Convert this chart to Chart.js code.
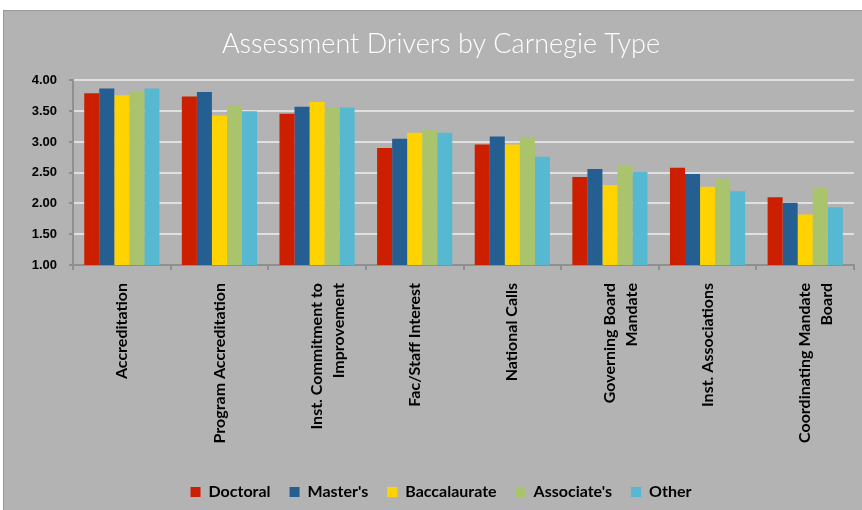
<!DOCTYPE html>
<html>
<head>
<meta charset="utf-8">
<script src="https://cdn.jsdelivr.net/npm/chart.js@4"></script>
<style>
  html, body { margin: 0; padding: 0; background: #fff; }
  #box {
    position: absolute; left: 3px; top: 10px; width: 859px; height: 500px;
    background: #b3b3b3; box-sizing: border-box; border-top: 1px solid #999; border-left: 1px solid #999;
  }
  #chart { display: block; }
</style>
</head>
<body>
<div id="box"><canvas id="chart" width="858" height="499"></canvas></div>
<script>
// categories and values
const categories = [
    'Accreditation',
    'Program Accreditation',
    ['Inst. Commitment to', 'Improvement'],
    'Fac/Staff Interest',
    'National Calls',
    ['Governing Board', 'Mandate'],
    'Inst. Associations',
    ['Coordinating Mandate', 'Board']
];
const doctoral      = [3.79, 3.74, 3.46, 2.90, 2.96, 2.43, 2.58, 2.10];
const masters       = [3.87, 3.81, 3.57, 3.05, 3.09, 2.56, 2.48, 2.01];
const baccalaureate = [3.76, 3.43, 3.65, 3.15, 2.96, 2.30, 2.27, 1.82];
const associates    = [3.82, 3.60, 3.56, 3.19, 3.08, 2.61, 2.40, 2.25];
const other         = [3.87, 3.50, 3.56, 3.15, 2.76, 2.51, 2.20, 1.94];

const seriesNames  = ['Doctoral', "Master's", 'Baccalaurate', "Associate's", 'Other'];
const seriesColors = ['#cc1f00', '#255e91', '#ffd300', '#a9c46c', '#57b9d1'];
const seriesData   = [doctoral, masters, baccalaureate, associates, other];

const datasets = seriesNames.map(function (name, i) {
    return {
        label: name,
        data: seriesData[i],
        backgroundColor: seriesColors[i],
        borderWidth: 0,
        categoryPercentage: 0.77,
        barPercentage: 1.0
    };
});

new Chart(document.getElementById('chart'), {
    type: 'bar',
    data: { labels: categories, datasets: datasets },
    options: {
        responsive: false,
        animation: false,
        layout: { padding: { left: 24, right: 8, top: 0, bottom: 0 } },
        plugins: {
            title: {
                display: true,
                text: 'Assessment Drivers by Carnegie Type',
                color: '#ffffff',
                font: { family: 'Lato', size: 27, weight: '300' },
                padding: { top: 17, bottom: 20 }
            },
            legend: {
                position: 'bottom',
                labels: {
                    color: '#000',
                    boxWidth: 10,
                    boxHeight: 10,
                    padding: 19,
                    font: { family: 'Lato', size: 16, weight: 'bold' }
                }
            },
            tooltip: { enabled: false }
        },
        scales: {
            x: {
                grid: { drawOnChartArea: false, drawTicks: true, tickLength: 5, color: '#8f8f8f', lineWidth: 2 },
                border: { color: '#8f8f8f', width: 2 },
                ticks: {
                    color: '#000',
                    maxRotation: 90,
                    minRotation: 90,
                    padding: 13,
                    font: { family: 'Lato', size: 16, weight: 'bold', lineHeight: 1.35 }
                },
                afterFit: function (scale) { scale.height = 200; }
            },
            y: {
                min: 1,
                max: 4,
                ticks: {
                    stepSize: 0.5,
                    color: '#000',
                    padding: 12,
                    font: { family: 'Liberation Sans', size: 13, weight: 'bold' },
                    callback: function (v) { return Number(v).toFixed(2); }
                },
                grid: { color: '#e0e0e0', lineWidth: 2, tickLength: 4, tickColor: '#8f8f8f' },
                border: { color: '#8f8f8f', width: 2 },
                afterFit: function (scale) { scale.width = 45; }
            }
        }
    }
});
</script>
</body>
</html>
